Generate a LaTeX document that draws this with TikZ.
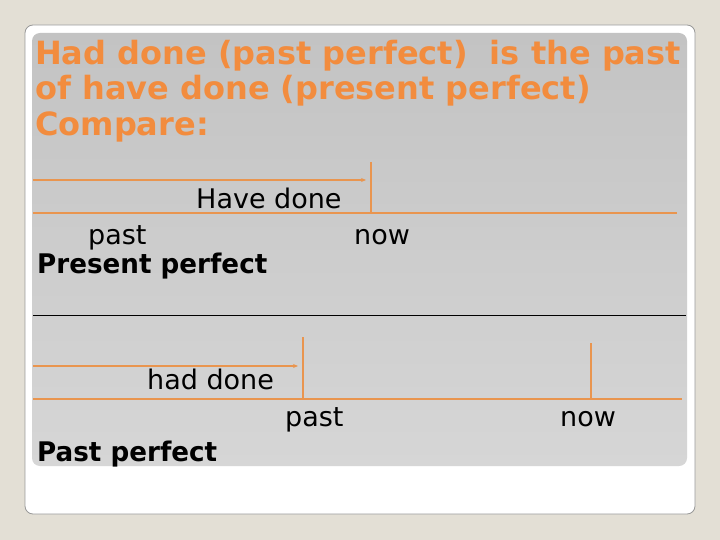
\documentclass[tikz,border=0pt]{standalone}
\usepackage{fontspec}
\setmainfont{DejaVu Sans}
\newfontfamily\boldwide{DejaVu Sans}[FakeStretch=0.97]
\usepackage{tikz}
\usetikzlibrary{positioning}
\usetikzlibrary{arrows.meta}
\definecolor{slidebg}{HTML}{E3DFD5}
\definecolor{panelgrey}{HTML}{C3C3C3}
\definecolor{panellight}{HTML}{D6D6D6}
\definecolor{titleorange}{HTML}{F28C3E}
\definecolor{lineorange}{HTML}{E9954F}
\tikzset{label/.style={anchor=base west,inner sep=0pt,font=\fontsize{27}{27}\selectfont}}
\tikzset{tense/.style={label,font=\fontsize{27}{27}\selectfont\boldwide\bfseries}}
\tikzset{heading/.style={anchor=base west,inner sep=0pt,text=titleorange,font=\fontsize{32}{36}\selectfont\bfseries}}
\tikzset{timeline/.style={lineorange,line width=1.2pt}}
\tikzset{period/.style={lineorange,line width=1.6pt,-{Stealth[length=5pt,width=4pt]}}}

\begin{document}
\begin{tikzpicture}[x=1pt,y=-1pt]
\useasboundingbox (0,0) rectangle (720,540);
\fill[slidebg] (0,0) rectangle (720,540);
\draw[black!40,line width=0.8pt,fill=white,rounded corners=8pt] (25,25) rectangle (695,514);
\shade[top color=panelgrey,bottom color=panellight,rounded corners=8pt] (32,33) rectangle (687,466);
% title
\node[heading] (head1) at (35,65) {Had done (past perfect)\ \ is the past};
\node[heading] (head2) at (35,100) {of have done (present perfect)};
\node[heading] (head3) at (35,136) {Compare:};
% present perfect
\coordinate (pstart) at (33,180);
\coordinate (pend) at (366,180);
\coordinate (ptop) at (371,162);
\coordinate (pnow) at (371,213);
\coordinate (pleft) at (33,213);
\coordinate (pright) at (677,213);
\draw[period] (pstart) -- (pend);
\draw[timeline] (ptop) -- (pnow);
\draw[timeline] (pleft) -- (pright);
\node[label] (havedone) at (196,208) {Have done};
\node[label] (ppast) at (88,244) {past};
\node[label] (pnowlabel) at (354,244) {now};
\node[tense] (present) at (37,273) {Present perfect};
% separator
\coordinate (sepleft) at (33,315);
\coordinate (sepright) at (686,315);
\draw[black,line width=1pt] (sepleft) -- (sepright);
% past perfect
\coordinate (qstart) at (33,366);
\coordinate (qend) at (298,366);
\coordinate (qtop) at (303,337);
\coordinate (qpast) at (303,399);
\coordinate (qnowtop) at (591,343);
\coordinate (qnow) at (591,399);
\coordinate (qleft) at (33,399);
\coordinate (qright) at (682,399);
\draw[period] (qstart) -- (qend);
\draw[timeline] (qtop) -- (qpast);
\draw[timeline] (qnowtop) -- (qnow);
\draw[timeline] (qleft) -- (qright);
\node[label] (haddone) at (147,389) {had done};
\node[label] (qpastlabel) at (285,426) {past};
\node[label] (qnowlabel) at (560,426) {now};
\node[tense] (pastperf) at (37,461) {Past perfect};
\end{tikzpicture}
\end{document}
